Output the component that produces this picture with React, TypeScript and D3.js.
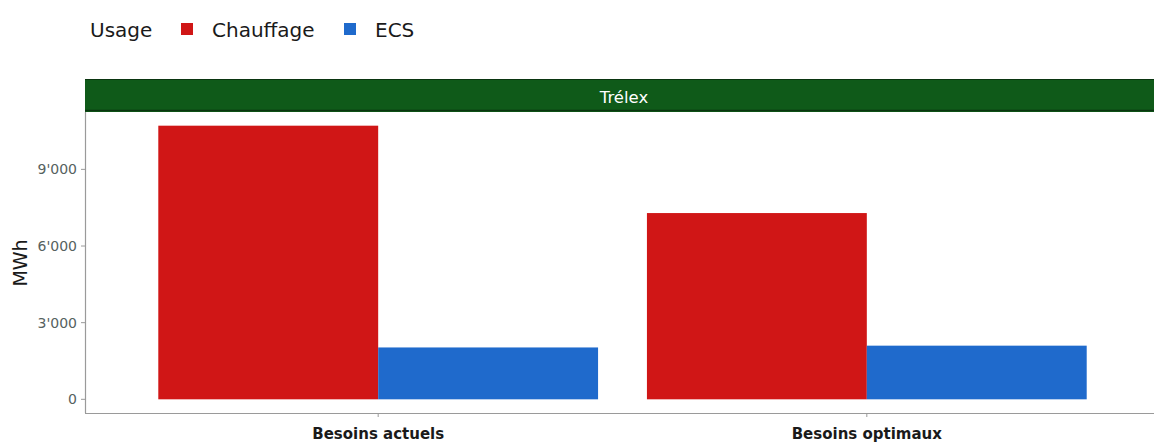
import React from "react";
import * as d3 from "d3";

// Heating needs in MWh, per scenario and use
const scenarios = ["Besoins actuels", "Besoins optimaux"];
const usages = ["Chauffage", "ECS"];
const chauffage = [10710, 7290];
const ecs = [2030, 2100];
const yTicks = [0, 3000, 6000, 9000];
const facetLabel = "Trélex";

const colors: Record<string, string> = { Chauffage: "#d01616", ECS: "#1f6acc" };

const W = 1154;
const H = 443;
const panel = { left: 85, right: 1160, top: 112, bottom: 413 };
const font = "'DejaVu Sans', Verdana, sans-serif";

export default function App() {
  const rows = scenarios.map((s, i) => ({ scenario: s, Chauffage: chauffage[i], ECS: ecs[i] }));
  const maxV = d3.max(rows, (r) => Math.max(r.Chauffage, r.ECS)) as number;
  const pad = maxV * 0.05;

  const y = d3
    .scaleLinear()
    .domain([-pad, maxV + pad])
    .range([panel.bottom, panel.top]);

  // discrete axis with 0.6 unit expansion on each side
  const n = scenarios.length;
  const xc = d3
    .scaleLinear()
    .domain([1 - 0.6, n + 0.6])
    .range([panel.left, panel.right]);
  const unit = xc(2) - xc(1);
  const dodge = d3.scaleBand().domain(usages).range([-0.45 * unit, 0.45 * unit]);

  const fmt = (v: number) => d3.format(",")(v).replace(/,/g, "'");

  return (
    <svg
      width={W}
      height={H}
      style={{ position: "absolute", left: 0, top: 0, background: "#fff" }}
      fontFamily={font}
    >
      {/* legend */}
      <text x={90} y={37} fontSize={20} fill="#1a1a1a">Usage</text>
      {usages.map((u, i) => {
        const x0 = [181, 344][i];
        return (
          <g key={u}>
            <rect x={x0} y={23} width={12} height={12} fill={colors[u]} />
            <text x={x0 + 31} y={37} fontSize={20} fill="#1a1a1a">{u}</text>
          </g>
        );
      })}

      {/* facet strip */}
      <rect x={panel.left} y={79} width={W - panel.left} height={panel.top - 79} fill="#0f5a19" />
      <line x1={panel.left} x2={W} y1={79.5} y2={79.5} stroke="#0a3510" />
      <line x1={panel.left} x2={W} y1={110.5} y2={110.5} stroke="#0a3510" strokeWidth={1.5} />
      <text x={624} y={103} fontSize={16.5} fill="#ffffff" textAnchor="middle">
        {facetLabel}
      </text>

      {/* bars */}
      {rows.map((r, i) =>
        usages.map((u) => {
          const v = (r as any)[u] as number;
          const x0 = xc(i + 1) + (dodge(u) as number);
          return (
            <rect
              key={r.scenario + u}
              x={x0}
              y={y(v)}
              width={dodge.bandwidth()}
              height={y(0) - y(v)}
              fill={colors[u]}
            />
          );
        })
      )}

      {/* axes */}
      <line x1={panel.left + 0.5} x2={panel.left + 0.5} y1={panel.top} y2={panel.bottom} stroke="#9a9a9a" strokeWidth={1.2} />
      <line x1={panel.left} x2={W} y1={panel.bottom + 0.5} y2={panel.bottom + 0.5} stroke="#9a9a9a" strokeWidth={1.2} />
      {yTicks.map((t) => (
        <g key={t}>
          <line x1={panel.left - 4} x2={panel.left} y1={y(t)} y2={y(t)} stroke="#9a9a9a" />
          <text x={panel.left - 8} y={y(t) + 5} fontSize={14} fill="#56625f" textAnchor="end">
            {fmt(t)}
          </text>
        </g>
      ))}
      {scenarios.map((s, i) => (
        <g key={s}>
          <line x1={xc(i + 1)} x2={xc(i + 1)} y1={panel.bottom} y2={panel.bottom + 4} stroke="#9a9a9a" />
          <text x={xc(i + 1)} y={439} fontSize={15} fontWeight="bold" fill="#1a1a1a" textAnchor="middle">
            {s}
          </text>
        </g>
      ))}
      <text
        transform={`translate(27, 263) rotate(-90)`}
        fontSize={19}
        fill="#1a1a1a"
        textAnchor="middle"
      >
        MWh
      </text>
    </svg>
  );
}
